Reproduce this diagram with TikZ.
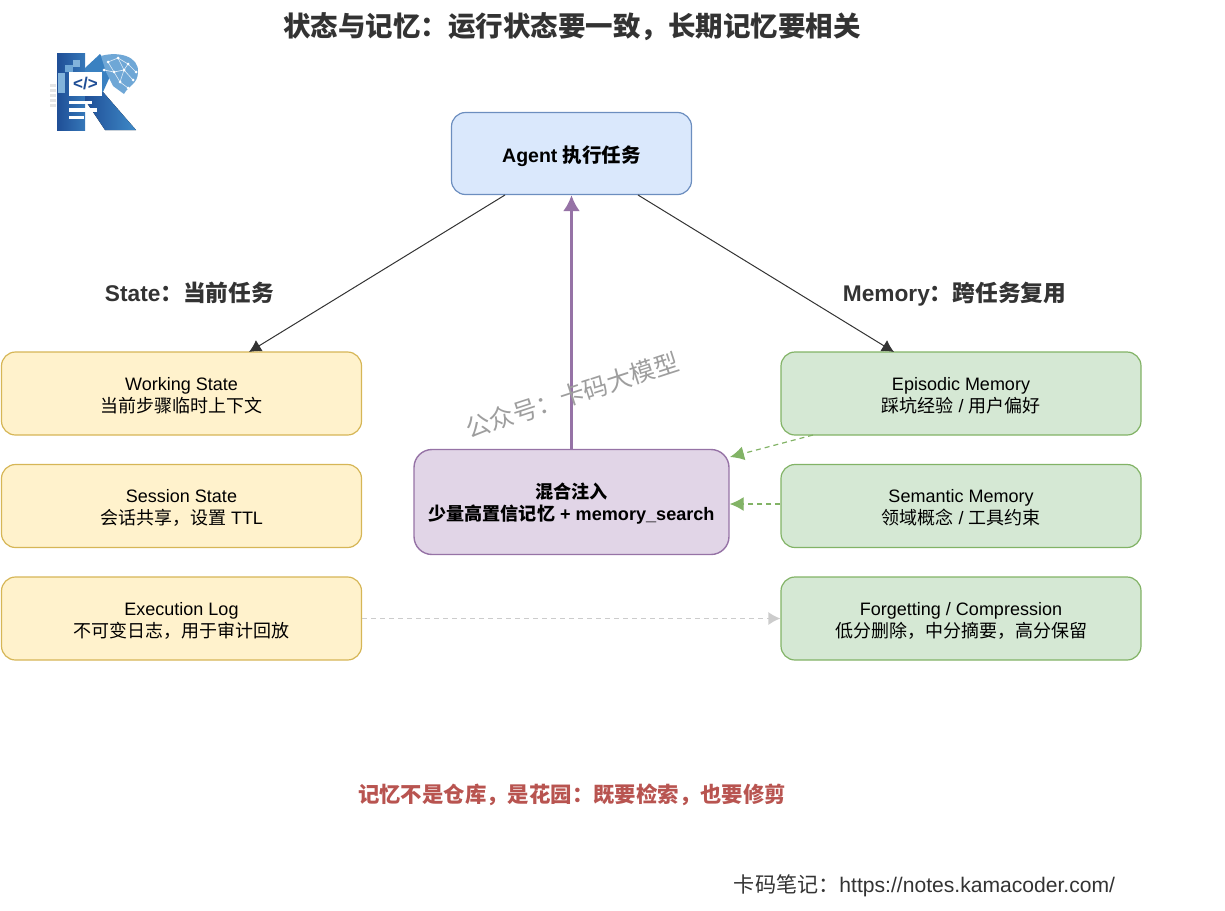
\documentclass[tikz,border=0pt]{standalone}
\usepackage{fontspec}
\setmainfont{Liberation Sans}
\newfontfamily\cjk{Noto Sans CJK SC}
\newcommand\zh[1]{{\cjk #1}}
\newcommand\lowered[2]{\raisebox{0pt}[\dimexpr\height+#1\relax][\depth]{#2}}
\newcommand\twolines[2]{\lowered{4pt}{#1}\\#2}
\usetikzlibrary{arrows.meta,shadings}
\definecolor{bluef}{HTML}{DAE8FC}\definecolor{blued}{HTML}{6C8EBF}
\definecolor{yelf}{HTML}{FFF2CC}\definecolor{yeld}{HTML}{D6B656}
\definecolor{grnf}{HTML}{D5E8D4}\definecolor{grnd}{HTML}{82B366}
\definecolor{purf}{HTML}{E1D5E7}\definecolor{purd}{HTML}{9673A6}
\definecolor{ink}{HTML}{333333}\definecolor{redt}{HTML}{B85450}
\definecolor{logoA}{HTML}{1F4E96}\definecolor{logoB}{HTML}{3F8AC8}
\tikzset{
 card/.style={draw,rounded corners=14pt,line width=1.2pt,minimum width=360pt,minimum height=83pt,align=center,inner sep=0pt,font=\fontsize{18}{22}\selectfont,text=black},
 yel/.style={card,fill=yelf,draw=yeld},
 grn/.style={card,fill=grnf,draw=grnd},
 heading/.style={inner sep=0pt,text=ink,font=\bfseries\fontsize{22.7}{26}\selectfont},
 link/.style={draw=ink,line width=1pt,-{Latex[length=12pt,width=13pt]}},
 dashlink/.style={draw=grnd,line width=1.2pt,dash pattern=on 5pt off 4pt,-{Latex[length=14pt,width=14pt]}},
}
\begin{document}
\begin{tikzpicture}[x=1pt,y=-1pt]
\useasboundingbox (0,0) rectangle (1225,910);
% logo
\foreach \yy in {84,89,94,99,104}{\fill[black!10] (50,\yy) rectangle (56,\yy+3);}
\fill[left color=logoA,right color=logoB!70!logoA] (57,53) rectangle (85,130);
\fill[left color=logoA,right color=logoB] (85,100) -- (105,130) -- (136,130) -- (103,92) -- (85,85) -- cycle;
\fill[logoB!85!logoA] (85,85) -- (85,68) -- (100,54) -- (112,72) -- (103,92) -- cycle;
\fill[logoB!75!white] (101,56) .. controls (118,51) and (139,56) .. (138,72) .. controls (138,84) and (128,86) .. (124,94) -- (113,86) -- (106,72) -- cycle;
\foreach \xa/\ya/\xb/\yb in {108/62/118/58,118/58/128/64,128/64/136/72,108/62/114/72,114/72/124/70,124/70/128/64,124/70/133/80,114/72/120/82,120/82/124/70,120/82/128/88,118/58/124/70,104/70/114/72}
 {\draw[white!85!logoB,line width=.6pt] (\xa,\ya) -- (\xb,\yb);}
\foreach \xa/\ya in {108/62,118/58,128/64,136/72,114/72,124/70,133/80,120/82,128/88,104/70}
 {\fill[white] (\xa,\ya) circle (1.5pt);}
\fill[logoB!65!white] (58,73) rectangle (65,93);
\fill[logoB!75!white] (65,65) rectangle (73,72);
\fill[logoB!65!white] (73,60) rectangle (80,67);
\fill[white] (69,72) rectangle (102,96);
\node (logocode) at (85.5,84) [inner sep=0pt,text=logoA,font=\bfseries\fontsize{17}{17}\selectfont] {</>};
\fill[white] (69,101) rectangle (92,104);
\fill[white] (69,108) rectangle (97,112);
\fill[white] (69,116) rectangle (84,119);
% texts
\node[heading,font=\bfseries\fontsize{27.5}{30}\selectfont] (title) at (572,27) {\zh{状态与记忆：运行状态要一致，长期记忆要相关}};
\node[heading] (statehead) at (189.5,293) {State\zh{：当前任务}};
\node[heading] (memhead) at (954.5,294) {Memory\zh{：跨任务复用}};
% nodes
\node[draw=blued,fill=bluef,rounded corners=14pt,line width=1.2pt,minimum width=240pt,minimum height=82pt,inner sep=0pt,font=\bfseries\fontsize{19.5}{22}\selectfont] (agent) at (571.5,153.5) {\lowered{6pt}{Agent \zh{执行任务}}};
\node[yel] (ws) at (181.5,393.5) {\twolines{Working State}{\zh{当前步骤临时上下文}}};
\node[yel] (ss) at (181.5,506) {\twolines{Session State}{\zh{会话共享，设置} TTL}};
\node[yel] (el) at (181.5,618.5) {\twolines{Execution Log}{\zh{不可变日志，用于审计回放}}};
\node[grn] (em) at (961,393.5) {\twolines{Episodic Memory}{\zh{踩坑经验} / \zh{用户偏好}}};
\node[grn] (sm) at (961,506) {\twolines{Semantic Memory}{\zh{领域概念} / \zh{工具约束}}};
\node[grn] (fc) at (961,618.5) {\twolines{Forgetting / Compression}{\zh{低分删除，中分摘要，高分保留}}};
\node[draw=purd,fill=purf,rounded corners=18pt,line width=1.4pt,minimum width=315pt,minimum height=105pt,inner sep=0pt,align=center,font=\bfseries\fontsize{18.1}{22}\selectfont] (mix) at (571.5,502) {\twolines{\zh{混合注入}}{\zh{少量高置信记忆} + memory\_search}};
% connectors
\coordinate (a1) at (505,195); \coordinate (a2) at (249,352);
\coordinate (b1) at (638,195); \coordinate (b2) at (894,352);
\draw[link] (a1) -- (a2);
\draw[link] (b1) -- (b2);
\draw[draw=purd,line width=3pt,-{Latex[length=16pt,width=17pt]}] (mix.north) -- (agent.south);
\coordinate (e1) at (813,435); \coordinate (e2) at (730,457);
\draw[dashlink] (e1) -- (e2);
\draw[dashlink] ([yshift=2pt]sm.west) -- ([yshift=2pt]mix.east |- sm.west);
\draw[draw=black!20,line width=1.3pt,dash pattern=on 5pt off 4pt,-{Latex[length=12pt,width=13pt]}] (el.east) -- (fc.west);
% watermark
\node[rotate=18,inner sep=0pt,text=black!38,font=\fontsize{24.7}{28}\selectfont] (wm) at (572,395) {\zh{公众号：卡码大模型}};
% notes
\node[inner sep=0pt,text=redt,font=\bfseries\fontsize{21.4}{26}\selectfont] (note) at (572,795) {\zh{记忆不是仓库，是花园：既要检索，也要修剪}};
\node[inner sep=0pt,text=ink,font=\fontsize{21.1}{26}\selectfont] (url) at (924.5,885.5) {\zh{卡码笔记：}https://notes.kamacoder.com/};
\end{tikzpicture}
\end{document}
